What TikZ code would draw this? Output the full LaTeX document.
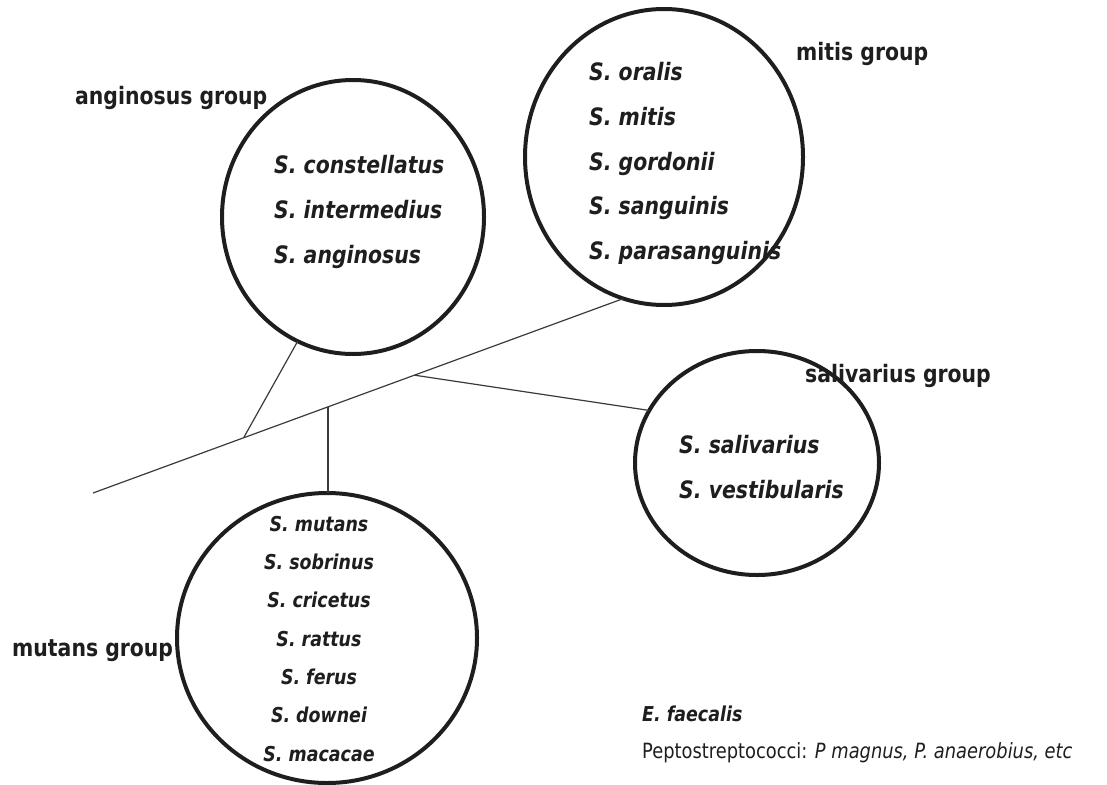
\documentclass[tikz,border=0pt]{standalone}
\usepackage{fontspec}
\setmainfont{DejaVu Sans}[FakeStretch=0.85]
\usepackage{tikz,xcolor}
\usetikzlibrary{shapes.geometric,calc}
\definecolor{ink}{HTML}{1E1E1E}
\definecolor{stem}{HTML}{3A3A3A}

\tikzset{
  grp/.style 2 args={ellipse, draw=ink, line width=4pt, inner sep=0pt, outer sep=0pt,
    minimum width=#1pt, minimum height=#2pt},
  grplabel/.style={anchor=base west, inner sep=0pt, text=ink, font=\bfseries\fontsize{24}{28}\selectfont},
  sp/.style={anchor=base west, inner sep=0pt, text=ink, font=\bfseries\itshape\fontsize{24}{28}\selectfont},
  spsmall/.style={anchor=base, inner sep=0pt, text=ink, font=\bfseries\itshape\fontsize{20.5}{24}\selectfont},
  branch/.style={draw=stem, line width=1.2pt}
}

\begin{document}
\begin{tikzpicture}[x=1pt,y=-1pt]
  \useasboundingbox (0,0) rectangle (1107,784);

  % the four groups
  \node[grp={262}{274}] (ang) at (353,217) {};
  \node[grp={278}{296}] (mit) at (664,157) {};
  \node[grp={244}{224}] (sal) at (757,463) {};
  \node[grp={300}{290}] (mut) at (327,638) {};

  \node[grplabel] (anglab) at (75,104) {anginosus group};
  \node[grplabel] (mitlab) at (796,60) {mitis group};
  \node[grplabel] (sallab) at (805,382) {salivarius group};
  \node[grplabel] (mutlab) at (12,656) {mutans group};

  \foreach \s [count=\i] in {constellatus,intermedius,anginosus}
    \node[sp] (ang\i) at (274,128+45*\i) {S. \s};
  \foreach \s [count=\i] in {oralis,mitis,gordonii,sanguinis,parasanguinis}
    \node[sp] (mit\i) at (589,36.5+44.5*\i) {S. \s};
  \foreach \s [count=\i] in {salivarius,vestibularis}
    \node[sp] (sal\i) at (679,408+45*\i) {S. \s};
  \foreach \s [count=\i] in {mutans,sobrinus,cricetus,rattus,ferus,downei,macacae}
    \node[spsmall] (mut\i) at (319,493+38.3*\i) {S. \s};

  % tree
  \coordinate (root) at (93,493);
  \draw[branch] (root) -- (mit.254);
  \coordinate (j1) at ($(root)!0.284!(mit.254)$);
  \coordinate (j2) at ($(root)!0.443!(mit.254)$);
  \coordinate (j3) at ($(root)!0.606!(mit.254)$);
  \draw[branch] (ang.246) -- (j1);
  \draw[branch] (j2) -- (j2 |- mut.north);
  \draw[branch] (j3) -- (sal.154);

  \node[anchor=base west, inner sep=0pt, text=ink, font=\bfseries\itshape\fontsize{20.5}{24}\selectfont] (efae) at (642,721) {E. faecalis};
  \node[anchor=base west, inner sep=0pt, text=ink, font=\fontsize{21}{24}\selectfont] (pept) at (642,758) {Peptostreptococci: \textit{P magnus, P. anaerobius, etc}};
\end{tikzpicture}
\end{document}
